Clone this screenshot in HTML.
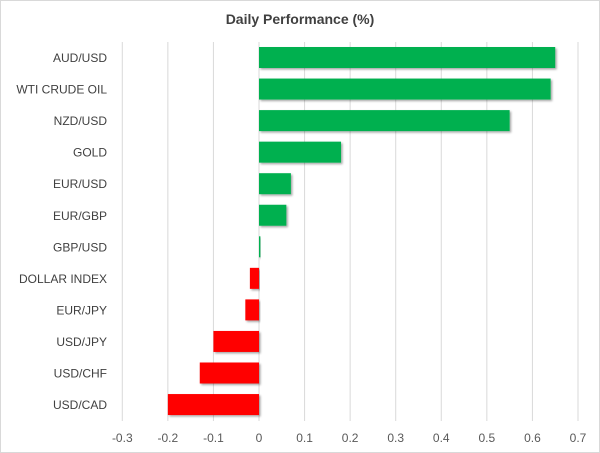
<!DOCTYPE html>
<html><head><meta charset="utf-8"><style>
body{margin:0;background:#fff;font-family:"Liberation Sans",sans-serif}
svg{display:block}
</style></head><body>
<svg id="chart" width="600" height="453">
<defs><filter id="sh" x="-5%" y="-20%" width="115%" height="160%"><feDropShadow dx="1.5" dy="1.5" stdDeviation="1" flood-color="#000" flood-opacity="0.35"/></filter></defs>
<rect x="0.5" y="0.5" width="599" height="452" fill="#fff" stroke="#d9d9d9"/>
<text x="300" y="24" text-anchor="middle" font-size="14" font-weight="bold" fill="#404040">Daily Performance (%)</text>
<g id="grid"></g><g id="bars"></g><g id="labels"></g><g id="ticks"></g>
</svg>
<script>
const categories=["AUD/USD","WTI CRUDE OIL","NZD/USD","GOLD","EUR/USD","EUR/GBP","GBP/USD","DOLLAR INDEX","EUR/JPY","USD/JPY","USD/CHF","USD/CAD"];
const values=[0.65,0.64,0.55,0.18,0.07,0.06,0.003,-0.02,-0.03,-0.10,-0.13,-0.20];
const tickValues=[-0.3,-0.2,-0.1,0,0.1,0.2,0.3,0.4,0.5,0.6,0.7];
const tickLabels=["-0.3","-0.2","-0.1","0","0.1","0.2","0.3","0.4","0.5","0.6","0.7"];
const NS="http://www.w3.org/2000/svg";
const x=v=>259+(v)*455.7;
const yc=i=>57.5+i*31.55;
function mk(t,a,p){const e=document.createElementNS(NS,t);for(const k in a)e.setAttribute(k,a[k]);p.appendChild(e);return e;}
const grid=document.getElementById('grid'),bars=document.getElementById('bars'),labels=document.getElementById('labels'),ticks=document.getElementById('ticks');
tickValues.forEach((v,i)=>{
  const l=mk('line',{x1:x(v),x2:x(v),y1:42,y2:421,stroke:'#d9d9d9','stroke-width':1},grid);
  
  
  const t=mk('text',{x:x(v),y:442,'text-anchor':'middle','font-size':12,fill:'#595959'},ticks);
  t.textContent=tickLabels[i];
  
  
});
categories.forEach((c,i)=>{
  const v=values[i];
  const r=mk('rect',{x:Math.min(x(0),x(v)),y:yc(i)-10.5,width:Math.max(Math.abs(x(v)-x(0)),0.8),height:21,fill:v>=0?'#00b050':'#ff0000',filter:'url(#sh)'},bars);
  
  
  const t=mk('text',{x:107,y:yc(i)+4.5,'text-anchor':'end','font-size':12,fill:'#404040'},labels);
  t.textContent=c;
  
  
});
</script>
</body></html>
